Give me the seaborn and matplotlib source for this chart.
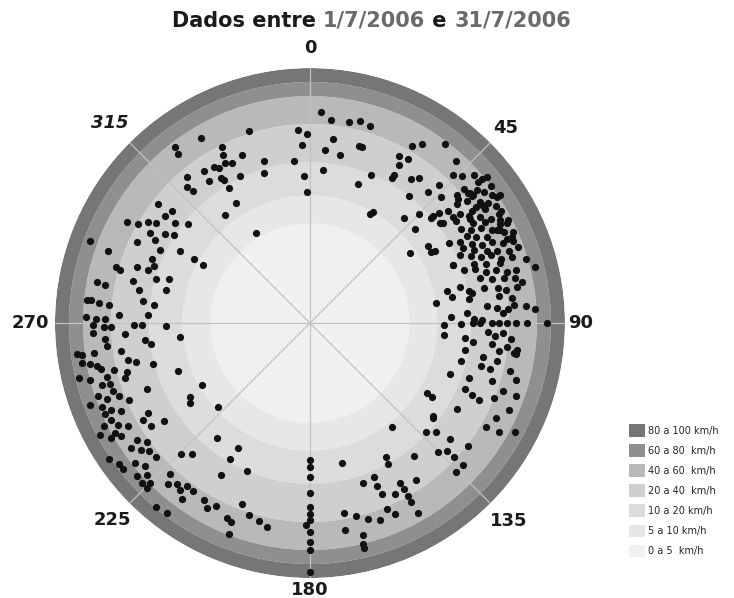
import numpy as np
import matplotlib
matplotlib.use('Agg')
import matplotlib.pyplot as plt
import pandas as pd
import seaborn as sns
from matplotlib.patches import Patch
from matplotlib.offsetbox import TextArea, HPacker, AnnotationBbox

# faixas de velocidade (km/h) e o raio que cada limite ocupa no disco
band_speeds = [0, 5, 10, 20, 40, 60, 80, 100]
band_radii = [0, 0.39, 0.50, 0.63, 0.78, 0.89, 0.945, 1.0]
band_colors = ['#eff0f2', '#e6e7e9', '#dcdcdd', '#cfcfcf', '#b9b9b9', '#8f8f8f', '#767676']
band_labels = ['0 a 5  km/h', '5 a 10 km/h', '10 a 20 km/h', '20 a 40  km/h',
               '40 a 60  km/h', '60 a 80  km/h', '80 a 100 km/h']

dir_ticks = [0, 45, 90, 135, 180, 225, 270, 315]
tick_radius = [1.078, 1.083, 1.063, 1.10, 1.045, 1.094, 1.098, 1.11]

# (direcao em graus, velocidade em km/h)
ne_core = [(48, 56), (50, 58), (50.5, 63), (50, 55), (53, 60),
           (49, 44), (51, 45), (53, 54), (56, 64), (49, 38), (52, 45), (55, 57),
           (51, 35), (52, 40), (54.5, 47), (56, 51), (55, 43), (57, 47), (58, 55), (60, 54), (55.5, 39),
           (54, 33), (56, 36), (58, 41), (60, 47), (61.5, 52), (63, 56), (55, 29), (58.5, 36), (60, 42),
           (58, 29), (60, 33), (61, 38), (63, 44), (64, 49), (66, 57), (61, 30), (62.5, 34), (64, 39), (67, 51),
           (60, 20), (61.5, 25), (64, 30), (65.5, 35), (66, 40), (67.5, 47), (68, 54), (70, 56), (64, 25),
           (66, 30), (68, 36), (69, 41), (70, 49),
           (65.5, 22), (67.5, 27), (69, 32), (69.5, 37), (71.5, 42), (72, 50), (73.5, 59), (76, 67),
           (68, 18), (70, 27), (71.5, 33), (72.5, 40),
           (71, 21), (72, 27), (74, 32), (74, 37), (75.5, 43), (75.5, 50), (75, 28), (76.5, 34), (77, 40),
           (77.5, 48), (79, 52),
           (76.5, 18), (78.5, 21), (77, 14), (79.5, 15), (78.5, 29), (79.5, 36), (80.5, 40), (80, 48),
           (82, 36), (83, 43), (85.5, 53), (86.5, 59),
           (81.5, 20), (79.5, 22), (84.5, 29), (85.5, 34), (86, 40), (87, 37), (85, 44),
           (86.5, 19), (88.5, 22), (89, 26), (87.5, 14),
           (56, 59), (51.5, 50), (50.5, 44), (52, 46), (50, 37), (55.5, 47), (59.5, 56), (62.5, 51),
           (62.5, 57), (65, 51), (67, 55), (63.5, 47), (57, 36), (53.5, 29), (52.5, 22), (49, 20)]

ne_outer = [(3, 49), (6, 44), (11, 44), (14, 47), (17, 45), (7, 33), (5, 27), (10, 25), (15.5, 32),
            (16.5, 32), (5, 18), (19, 16), (22.5, 20), (29, 9.5), (29.5, 10),
            (30, 44), (32, 49), (37, 58), (28, 35), (31, 36), (29.5, 31), (29.5, 25), (29.5, 23), (35, 28),
            (37, 31), (42, 54), (44, 45), (46, 49), (38, 20), (42, 28), (43, 35), (46, 31), (42, 14),
            (48, 14), (45, 18), (49, 21), (49.5, 25), (53, 23), (51, 29), (55, 9), (57, 14), (59.5, 14),
            (60, 15), (81, 10), (68, 18)]

east_row = [(91, 12), (90.5, 17), (90, 21), (90, 25), (90, 31), (90, 35), (90, 39), (90, 45),
            (90, 53), (90, 75)]

se = [(95, 12), (95.5, 18.5), (96.5, 22), (100, 19),
      (93, 29), (94, 33), (93, 37), (94.5, 42), (97.5, 47), (98.5, 45), (98.5, 36), (96.5, 32),
      (101, 28), (104, 28), (97, 40), (98.5, 47),
      (104, 18.5), (110, 16.5), (109, 24), (113, 24), (114, 29), (114.5, 33),
      (104.5, 33), (107.5, 36), (112, 40), (109.5, 44), (101.5, 36), (103.5, 45), (105.5, 51),
      (109.5, 54), (113.5, 53), (117, 47), (120.5, 44), (120, 54), (118, 67),
      (121, 12.7), (121, 14.6), (127, 18), (127.5, 18.5), (120.5, 25), (142, 11.5), (133, 19.6),
      (131, 23), (129.5, 31), (128, 41),
      (135, 31), (133, 34), (133, 39), (133, 47), (135.5, 47), (142, 24), (167, 15), (150.5, 18),
      (151, 20), (146, 35),
      (161.5, 24), (157.5, 23), (157.5, 28), (157, 33), (153.5, 36), (150.5, 32), (150.5, 36),
      (150.5, 40), (150.5, 45), (150.5, 54), (157.5, 42), (156, 47),
      (170, 37), (166.5, 40), (163.5, 44), (160.5, 47), (170.5, 48), (166, 54), (166.5, 60), (166.5, 67)]

south_col = [(180, 13), (180, 15), (180, 18), (180, 25), (180, 32), (180, 36), (180, 39), (181, 42),
             (180, 47), (180, 54), (180, 60), (180, 91)]

sw = [(269.5, 53), (269, 45), (269, 40), (269.5, 28), (269.5, 24), (269, 15), (264, 11), (267.5, 53),
      (265.5, 45), (263.5, 44), (266.5, 33), (264, 23), (262.5, 20), (261.5, 36),
      (262.5, 71), (262, 64), (262, 54), (260, 67), (259.5, 58), (258.5, 53), (258.5, 33), (257.5, 29),
      (255.5, 21), (250, 14), (256.5, 42), (255, 35), (253.5, 37),
      (256.5, 75), (255.5, 60), (257.5, 51), (255, 48), (253.5, 53), (253, 47), (248, 28), (247, 39),
      (251, 47), (249, 44), (251, 58), (249.5, 53), (249.5, 71), (248, 58), (246.5, 53), (245, 47),
      (241, 33), (240, 37), (237, 35), (236, 28), (238.5, 14), (236.5, 15), (240, 9.5), (227.5, 9.5),
      (246, 58), (244, 56), (242, 53), (240.5, 47), (243.5, 65), (240.5, 58), (242, 75), (240, 64),
      (239, 55),
      (236, 47), (234, 42), (235, 54), (233, 49), (231.5, 45), (229, 44),
      (224.5, 32), (222, 28), (219, 16), (210.5, 19), (210, 15), (210.5, 28), (203, 20),
      (236, 82), (233.5, 75), (232, 75),
      (231.5, 58), (229, 54), (228.5, 66), (227, 57), (226.5, 67), (225, 59), (224.5, 67), (220, 78),
      (217, 75),
      (223, 45), (221.5, 51), (219.5, 47), (218, 49), (216, 53), (217, 44), (215, 44), (211, 45),
      (209, 49), (207, 45), (203, 49), (201.5, 51), (201, 59), (200.5, 37), (197.5, 42), (194.5, 44),
      (192, 47)]

west = [(281, 53), (280.5, 47), (276, 58), (276, 55), (275.5, 49), (275, 42), (272.5, 36),
        (271.5, 58), (271, 51), (271, 44)]

nw = [(356.5, 37), (359, 35), (357.5, 29), (354.5, 21), (357.5, 16), (358.5, 11), (344, 24), (343, 19),
      (342.5, 42), (338, 31), (334.5, 21), (328.5, 14), (322, 13), (329, 6), (329.5, 51), (322.5, 56),
      (322, 51),
      (333.5, 39), (332.5, 35), (328.5, 32), (329.5, 30), (332, 31), (334, 29), (325, 33), (328.5, 25),
      (324.5, 27), (329, 23), (329, 19), (320, 36), (318, 32), (318.5, 28),
      (308, 37), (309, 29), (306.5, 30), (306.5, 24), (303, 32), (299.5, 32), (301.5, 25), (298, 28),
      (303, 21), (309, 19), (299, 16.5), (299, 47), (300, 40), (302, 36), (295, 36),
      (290.5, 71), (289.5, 51), (286, 42), (285.5, 39), (288, 31), (288, 25), (290, 23), (292, 25),
      (296, 23), (286, 20), (287.5, 16), (283.5, 31), (281, 27), (283, 16), (277.5, 24), (276.5, 19),
      (273, 21), (299, 11.5), (298.5, 9)]

sns.set_style('white')
plt.rcParams['font.family'] = ['DejaVu Sans']

df = pd.DataFrame(ne_core + ne_outer + east_row + se + south_col + sw + west + nw,
                  columns=['direcao', 'velocidade'])
df['theta'] = np.deg2rad(df['direcao'])
df['r'] = np.interp(df['velocidade'], band_speeds, band_radii)

fig = plt.figure(figsize=(7.34, 5.98), dpi=100)
ax = fig.add_axes([0.0749, 0.0334, 0.6948, 0.8528], projection='polar')
ax.set_theta_zero_location('N')
ax.set_theta_direction(-1)

# aneis de fundo
for i in range(len(band_colors)):
    ax.bar(0, band_radii[i + 1] - band_radii[i], width=2 * np.pi, bottom=band_radii[i],
           color=band_colors[i], edgecolor='none', linewidth=0, zorder=0.5)

sns.scatterplot(data=df, x='theta', y='r', ax=ax, color='#111111', s=27,
                linewidth=0, zorder=3, legend=False)

ax.set_ylim(0, 1)
ax.set_xticks(np.deg2rad(dir_ticks))
ax.set_xticklabels([])
ax.set_yticks([])
ax.set_xlabel('')
ax.set_ylabel('')
ax.grid(True, axis='x', color='#c2c2c2', lw=0.9)
ax.spines['polar'].set_visible(False)

for d, rr in zip(dir_ticks, tick_radius):
    ax.text(np.deg2rad(d), rr, str(d), ha='center', va='center', fontsize=13,
            fontweight='bold', color='#1a1a1a', style='italic' if d == 315 else 'normal')

# titulo com datas em cinza
parts = [('Dados entre ', '#1a1a1a'), ('1/7/2006', '#6a6a6a'), (' e ', '#1a1a1a'),
         ('31/7/2006', '#6a6a6a')]
boxes = [TextArea(t, textprops=dict(color=c, fontsize=15, fontweight='bold')) for t, c in parts]
pack = HPacker(children=boxes, align='baseline', pad=0, sep=0)
fig.add_artist(AnnotationBbox(pack, (0.506, 0.965), xycoords='figure fraction',
                              frameon=False, box_alignment=(0.5, 0.5)))

handles = [Patch(facecolor=c, edgecolor='none', label=l)
           for c, l in zip(band_colors[::-1], band_labels[::-1])]
fig.legend(handles=handles, loc='upper left', bbox_to_anchor=(629 / 734, 1 - 424 / 598),
           frameon=False, fontsize=7, handlelength=1.65, handleheight=1.65,
           labelspacing=0.75, handletextpad=0.3, borderpad=0, borderaxespad=0)

fig.savefig('out.png', dpi=100)
